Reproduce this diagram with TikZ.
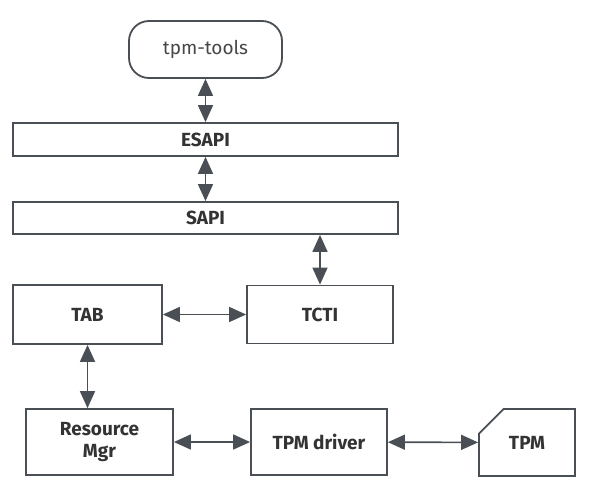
\documentclass[tikz,border=0pt]{standalone}
\usepackage{fontspec}
\setmainfont{Fira Sans}
\usetikzlibrary{shapes.misc, arrows.meta, positioning}
\definecolor{linegray}{HTML}{4A4F55}
\definecolor{textgray}{HTML}{333333}
\tikzstyle{layer} = [rectangle, draw=linegray, line width=1.8pt, fill=white, text=textgray, font=\bfseries\fontsize{19}{22}\selectfont, inner sep=0pt, align=center]
\tikzstyle{arrow} = [line width=1.6pt, draw=linegray, {Triangle[length=17pt,width=15pt]}-{Triangle[length=17pt,width=15pt]}]

\begin{document}
\begin{tikzpicture}[x=1pt, y=-1pt]
\useasboundingbox (0,0) rectangle (599,503);
% Top: tools and API layers
\node (tools) [layer, rounded corners=20pt, font=\fontsize{19}{22}\selectfont, text=textgray!90, minimum width=153pt, minimum height=57pt] at (205.5,49.5) {tpm-tools};
\node (esapi) [layer, minimum width=385pt, minimum height=33pt] at (205.5,139.5) {ESAPI};
\node (sapi) [layer, minimum width=385pt, minimum height=32pt] at (205.5,218) {SAPI};
% Middle row
\node (tab) [layer, minimum width=149pt, minimum height=59pt] at (87.5,314.5) {TAB};
\node (tcti) [layer, minimum width=146pt, minimum height=58pt] at (320,314.5) {TCTI};
% Bottom row
\node (resmgr) [layer, minimum width=147pt, minimum height=66pt] at (99.5,442) {Resource\\Mgr};
\node (driver) [layer, minimum width=136pt, minimum height=66pt] at (319,442) {TPM driver};
\node (tpm) [layer, chamfered rectangle, chamfered rectangle corners=north west, chamfered rectangle xsep=24pt, chamfered rectangle ysep=24pt, minimum width=96pt, minimum height=67pt] at (527,442.5) {TPM};

% Arrows
\draw [arrow] (tools) -- (esapi);
\draw [arrow] (esapi) -- (sapi);
\draw [arrow] (sapi.south -| tcti) -- (tcti);
\draw [arrow] (tab) -- (tcti);
\draw [arrow] (tab) -- (tab |- resmgr.north);
\draw [arrow] (resmgr) -- (driver);
\draw [arrow] (driver) -- (tpm);
\end{tikzpicture}
\end{document}
